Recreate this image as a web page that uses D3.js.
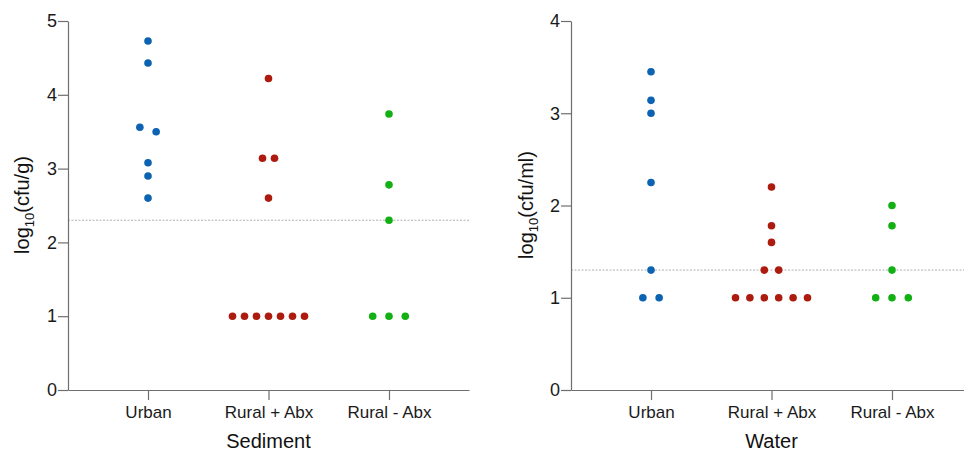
<!DOCTYPE html>
<html>
<head>
<meta charset="utf-8">
<script src="https://cdn.jsdelivr.net/npm/d3@7"></script>
<style>
  body { margin: 0; background: #fff; }
  svg { display: block; font-family: "Liberation Sans", Arial, sans-serif; }
  .axis path, .axis line { stroke: #6e6e6e; stroke-width: 1.2; }
  .axis text { fill: #1a1a1a; }
</style>
</head>
<body>
<div id="container"></div>
<script>
// groups on the x axis
const categories = ["Urban", "Rural + Abx", "Rural - Abx"];
const colors = ["#0b63b1", "#ad1a0e", "#12b012"];

// log10 counts per group, sediment (cfu/g)
const sedimentUrban = [4.73, 4.43, 3.56, 3.50, 3.08, 2.90, 2.60];
const sedimentRuralAbx = [4.22, 3.14, 3.14, 2.60, 1, 1, 1, 1, 1, 1, 1];
const sedimentRuralNoAbx = [3.74, 2.78, 2.30, 1, 1, 1];
const sedimentLimit = 2.3;
const sedimentTicks = [0, 1, 2, 3, 4, 5];

// log10 counts per group, water (cfu/ml)
const waterUrban = [3.45, 3.14, 3.00, 2.25, 1.30, 1, 1];
const waterRuralAbx = [2.20, 1.78, 1.60, 1.30, 1.30, 1, 1, 1, 1, 1, 1];
const waterRuralNoAbx = [2.00, 1.78, 1.30, 1, 1, 1];
const waterLimit = 1.3;
const waterTicks = [0, 1, 2, 3, 4];

const width = 964, height = 451;

const svg = d3.select("div#container")
    .append("svg")
    .attr("width", width)
    .attr("height", height);

// points closer than a dot get put in one row and spread sideways
function spread(values, y) {
    const sorted = values.slice().sort((a, b) => b - a);
    const rows = [];
    sorted.forEach(v => {
        const last = rows[rows.length - 1];
        if (last && y(v) - y(last[last.length - 1]) < 8) last.push(v);
        else rows.push([v]);
    });
    const maxN = d3.max(rows, r => r.length);
    const gap = maxN > 3 ? 72 / (maxN - 1) : 16.3;
    const points = [];
    rows.forEach(r => {
        r.forEach((v, k) => points.push({ v: v, off: (k - (r.length - 1) / 2) * gap }));
    });
    return points;
}

function drawPanel(opts) {
    const g = svg.append("g");

    const x = d3.scalePoint()
        .domain(categories)
        .range([opts.left, opts.left + 401])
        .padding(0.664);

    const y = d3.scaleLinear()
        .domain([0, d3.max(opts.ticks)])
        .range([390, 21]);

    // detection limit
    g.append("line")
        .attr("x1", x.range()[0])
        .attr("x2", x.range()[1])
        .attr("y1", y(opts.limit))
        .attr("y2", y(opts.limit))
        .attr("stroke", "#9a9a9a")
        .attr("stroke-width", 0.8)
        .attr("stroke-dasharray", "2,1.5");

    g.append("g")
        .attr("class", "axis")
        .attr("transform", "translate(0,390)")
        .call(d3.axisBottom(x).tickSize(10).tickSizeOuter(0).tickPadding(6))
        .selectAll("text")
        .attr("font-size", 17);

    g.append("g")
        .attr("class", "axis")
        .attr("transform", `translate(${opts.left},0)`)
        .call(d3.axisLeft(y).tickValues(opts.ticks).tickSize(10).tickSizeOuter(0)
            .tickPadding(1).tickFormat(d3.format("d")))
        .selectAll("text")
        .attr("font-size", 18);

    opts.series.forEach((values, i) => {
        g.selectAll(null)
            .data(spread(values, y))
            .enter()
            .append("circle")
            .attr("cx", d => x(categories[i]) + d.off)
            .attr("cy", d => y(d.v))
            .attr("r", 3.8)
            .attr("fill", colors[i]);
    });

    const label = g.append("text")
        .attr("transform", `translate(${opts.labelX},205) rotate(-90)`)
        .attr("text-anchor", "middle")
        .attr("dy", "0.35em")
        .attr("font-size", 20)
        .attr("fill", "#111");
    label.append("tspan").text("log");
    label.append("tspan").text("10").attr("font-size", 13).attr("dy", 5);
    label.append("tspan").text(opts.unit).attr("dy", -5);

    g.append("text")
        .attr("x", x(categories[1]))
        .attr("y", 448)
        .attr("text-anchor", "middle")
        .attr("font-size", 20)
        .attr("fill", "#111")
        .text(opts.title);
}

drawPanel({
    left: 68,
    ticks: sedimentTicks,
    limit: sedimentLimit,
    series: [sedimentUrban, sedimentRuralAbx, sedimentRuralNoAbx],
    unit: "(cfu/g)",
    labelX: 22,
    title: "Sediment"
});

drawPanel({
    left: 571,
    ticks: waterTicks,
    limit: waterLimit,
    series: [waterUrban, waterRuralAbx, waterRuralNoAbx],
    unit: "(cfu/ml)",
    labelX: 526,
    title: "Water"
});
</script>
</body>
</html>
